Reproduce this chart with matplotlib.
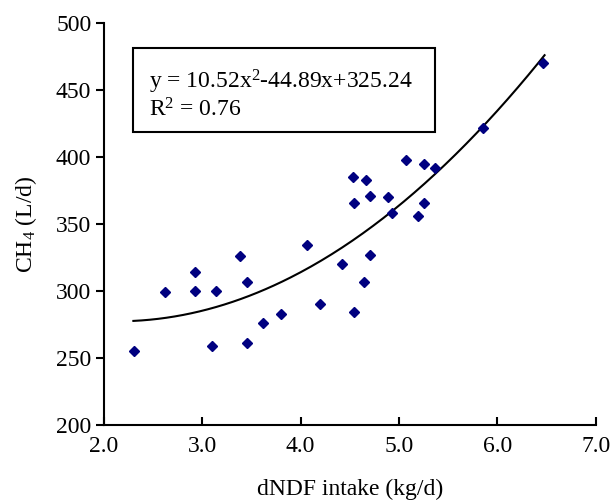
import numpy as np
import matplotlib
matplotlib.use("Agg")
import matplotlib.pyplot as plt
from matplotlib.patches import Rectangle

# datos
dndf = [2.31, 2.62, 2.93, 2.93, 3.14, 3.10, 3.38, 3.45, 3.46, 3.62,
        3.80, 4.07, 4.20, 4.42, 4.53, 4.54, 4.54, 4.66, 4.71, 4.71,
        4.64, 4.89, 4.93, 5.07, 5.25, 5.25, 5.19, 5.37, 5.85, 6.46]
ch4 = [255, 299, 314, 300, 300, 259, 326, 307, 261, 276,
       283, 334, 290, 320, 385, 366, 284, 383, 371, 327,
       307, 370, 358, 398, 395, 366, 356, 392, 422, 470]
coef = [10.52, -44.89, 325.24]   # ajuste cuadratico mostrado en la grafica

plt.rcParams['font.family'] = ['Liberation Serif', 'DejaVu Serif']
plt.rcParams['mathtext.fontset'] = 'custom'
plt.rcParams['mathtext.rm'] = 'Liberation Serif'
plt.rcParams['mathtext.it'] = 'Liberation Serif'

fig = plt.figure(figsize=(6.11, 5.04), dpi=100)
ax = fig.add_axes([0.170, 0.157, 0.805, 0.797])

xs = np.linspace(2.3, 6.48, 200)
ax.plot(xs, np.polyval(coef, xs), color="black", lw=1.5)
ax.plot(dndf, ch4, ls="none", marker="D", ms=5.5, color="#000080")

ax.set_xlim(2.0, 7.0)
ax.set_ylim(200, 500)
ax.set_xticks(np.arange(2.0, 7.01, 1.0))
ax.set_xticklabels(["2.0", "3.0", "4.0", "5.0", "6.0", "7.0"])
ax.set_yticks(np.arange(200, 501, 50))
ax.spines["top"].set_visible(False)
ax.spines["right"].set_visible(False)
for s in ["left", "bottom"]:
    ax.spines[s].set_linewidth(1.5)
ax.tick_params(axis="x", direction="in", length=6, width=1.5, labelsize=17, pad=8)
ax.tick_params(axis="y", direction="out", length=6, width=1.5, labelsize=17, pad=3)

ax.set_xlabel("dNDF intake (kg/d)", fontsize=17, labelpad=16)
ax.set_ylabel(r"CH$_{\mathrm{4}}$ (L/d)", fontsize=17, labelpad=12)

# caja con la ecuacion
ax.add_patch(Rectangle((0.059, 0.728), 0.614, 0.21, transform=ax.transAxes,
                       fill=False, lw=1.5, ec="black"))
ax.text(0.092, 0.855, r"y = 10.52x$^{\mathrm{2}}$-44.89x+325.24", transform=ax.transAxes,
        fontsize=17, va="center")
ax.text(0.092, 0.785, r"R$^{\mathrm{2}}$ = 0.76", transform=ax.transAxes,
        fontsize=17, va="center")

fig.savefig("out.png", dpi=100)
